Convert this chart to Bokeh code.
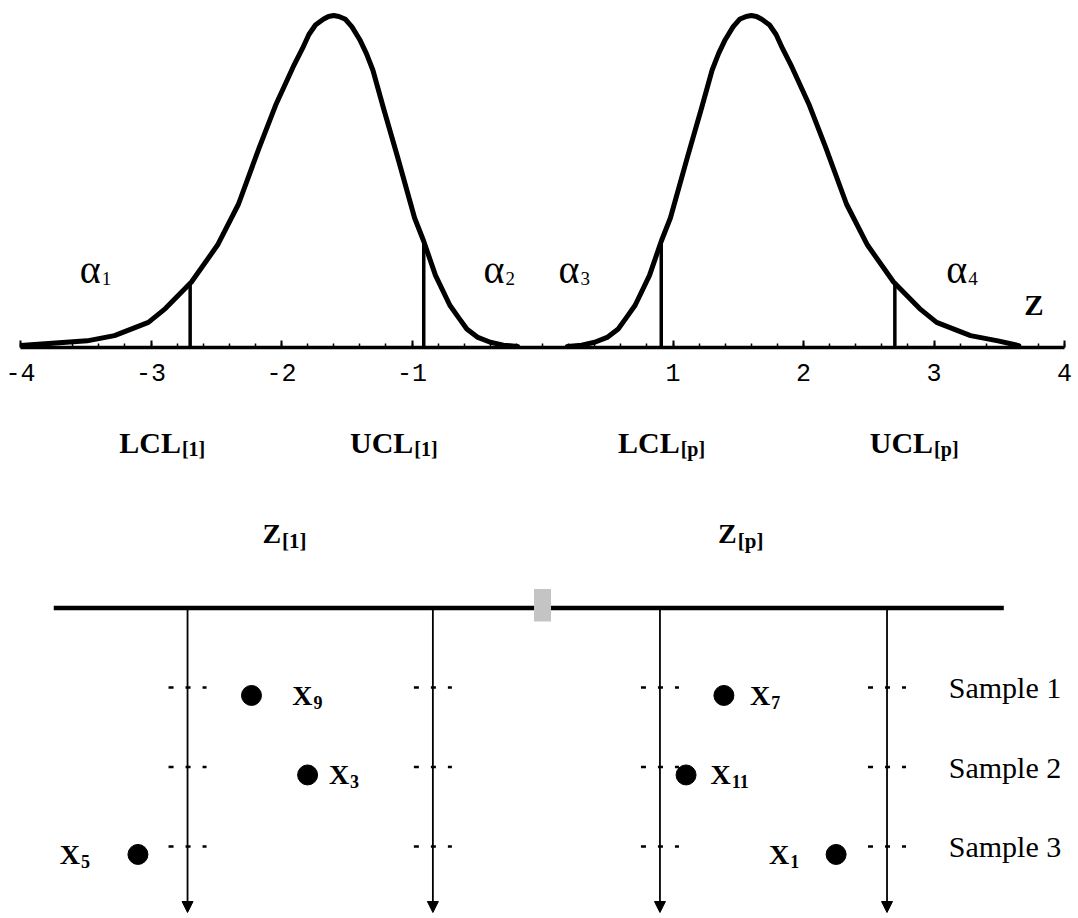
import numpy as np
from bokeh.plotting import figure
from bokeh.layouts import column
from bokeh.models import Range1d, FixedTicker, ColumnDataSource, Arrow, NormalHead
from bokeh.core.properties import value
from bokeh.embed import file_html
from bokeh.resources import INLINE

# ------------------------------------------------------------------ data
z_tick_values = [-4, -3, -2, -1, 1, 2, 3, 4]
z_tick_labels = ["-4", "-3", "-2", "-1", "1", "2", "3", "4"]

# density of the smallest standardized statistic Z[1]
min_curve_z = [-4.0, -3.49, -3.28, -3.02, -2.89, -2.69, -2.49, -2.33, -2.17, -2.04,
               -1.91, -1.84, -1.79, -1.74, -1.68, -1.64, -1.60, -1.56, -1.51, -1.46,
               -1.40, -1.35, -1.30, -1.22, -1.11, -0.98, -0.91, -0.82, -0.71, -0.64,
               -0.58, -0.50, -0.40, -0.30, -0.19]
min_curve_density = [0.004, 0.014, 0.025, 0.053, 0.082, 0.138, 0.216, 0.302, 0.422, 0.514,
                     0.592, 0.630, 0.660, 0.680, 0.692, 0.698, 0.700, 0.698, 0.692, 0.676,
                     0.649, 0.620, 0.585, 0.506, 0.401, 0.273, 0.224, 0.152, 0.089, 0.062,
                     0.039, 0.022, 0.011, 0.005, 0.002]

# density of the largest standardized statistic Z[p]
max_curve_z = [0.19, 0.30, 0.40, 0.50, 0.58, 0.64, 0.71, 0.82, 0.91, 0.98,
               1.11, 1.22, 1.30, 1.35, 1.40, 1.46, 1.51, 1.56, 1.60, 1.64,
               1.68, 1.74, 1.79, 1.84, 1.91, 2.04, 2.17, 2.33, 2.49, 2.69,
               2.89, 3.02, 3.28, 3.49, 3.65]
max_curve_density = [0.002, 0.005, 0.011, 0.022, 0.039, 0.062, 0.089, 0.152, 0.224, 0.273,
                     0.401, 0.506, 0.585, 0.620, 0.649, 0.676, 0.692, 0.698, 0.700, 0.698,
                     0.692, 0.680, 0.660, 0.630, 0.592, 0.514, 0.422, 0.302, 0.216, 0.138,
                     0.082, 0.053, 0.025, 0.014, 0.004]

limit_names = ["LCL", "UCL", "LCL", "UCL"]
limit_subs = ["[1]", "[1]", "[p]", "[p]"]
limit_z = [-2.70, -0.91, 0.91, 2.70]
limit_density = [0.138, 0.224, 0.224, 0.138]

alpha_subs = ["1", "2", "3", "4"]
stat_subs = ["[1]", "[p]"]

arrow_z = [-2.72, -0.84, 0.90, 2.64]
sample_names = ["Sample 1", "Sample 2", "Sample 3"]
sample_rows = [1, 2, 3]

obs_subs = ["9", "3", "5", "7", "11", "1"]
obs_z = [-2.23, -1.80, -3.10, 1.39, 1.10, 2.25]
obs_sample = [1, 2, 3, 1, 2, 3]

# ------------------------------------------------------------------ layout / style constants
W = 1078
LEFT, RIGHT = 20, 14
FRAME_W = W - LEFT - RIGHT
PX_PER_Z = FRAME_W / 8.0
TOP_H = 400
TOP_FRAME_H = 347
PX_PER_DENS = 474.3
BOT_H = 918 - TOP_H
ROW_PX = 79.5
ROW0_PX = 607.5 - TOP_H

SERIF = value("Liberation Serif")

x_range = Range1d(-4, 4)


def sub_text(fig, xs, ys, bases, subs, base_size, sub_size, bold, sub_dy,
             sub_bold=None):
    src = ColumnDataSource(dict(x=xs, y=ys, base=bases, sub=subs))
    style = "bold" if bold else "normal"
    sstyle = style if sub_bold is None else ("bold" if sub_bold else "normal")
    fig.text("x", "y", text="base", source=src, text_align="right",
             text_baseline="middle", text_font=SERIF,
             text_font_size=f"{base_size}px", text_font_style=style,
             text_color="black")
    fig.text("x", "y", text="sub", source=src, text_align="left",
             text_baseline="middle", text_font=SERIF, x_offset=1,
             y_offset=sub_dy, text_font_size=f"{sub_size}px",
             text_font_style=sstyle, text_color="black")


# ------------------------------------------------------------------ top figure
p1 = figure(width=W, height=TOP_H, x_range=x_range,
            y_range=Range1d(0, TOP_FRAME_H / PX_PER_DENS),
            output_backend="svg", toolbar_location=None,
            y_axis_location=None, x_axis_location="below",
            min_border_left=LEFT, min_border_right=RIGHT,
            min_border_top=0, min_border_bottom=TOP_H - TOP_FRAME_H)
p1.outline_line_color = None
p1.xgrid.visible = False
p1.ygrid.visible = False
p1.background_fill_color = "white"
p1.border_fill_color = "white"

minor = [round(v, 2) for v in np.arange(-4, 4.001, 0.2)]
ax = p1.xaxis[0]
ax.ticker = FixedTicker(ticks=z_tick_values, minor_ticks=minor)
ax.major_label_overrides = {v: s for v, s in zip(z_tick_values, z_tick_labels)}
ax.axis_line_width = 3.5
ax.axis_line_color = "black"
ax.major_tick_in = 7
ax.major_tick_out = 0
ax.major_tick_line_width = 2
ax.minor_tick_in = 4
ax.minor_tick_out = 0
ax.minor_tick_line_width = 1.5
ax.major_label_text_font = "Liberation Mono"
ax.major_label_text_font_size = "25px"
ax.major_label_text_color = "black"
ax.major_label_standoff = 16

p1.line(min_curve_z, min_curve_density, line_width=5, line_color="black",
        line_join="round", line_cap="round")
p1.line(max_curve_z, max_curve_density, line_width=5, line_color="black",
        line_join="round", line_cap="round")
p1.segment(x0=limit_z, y0=[0] * len(limit_z), x1=limit_z, y1=limit_density,
           line_width=3.5, line_color="black")

alpha_x = [(px - 541) / 130.3 for px in (100, 503, 578, 965)]
alpha_y = (TOP_FRAME_H - 269) / PX_PER_DENS
sub_text(p1, alpha_x, [alpha_y] * 4, ["α"] * 4, alpha_subs, 40, 19, False, 9)

p1.text(x=[(1022 - 541) / 130.3], y=[(TOP_FRAME_H - 304) / PX_PER_DENS], text=["Z"],
        text_align="left", text_baseline="middle", text_font=SERIF,
        text_font_size="29px", text_font_style="bold", text_color="black")

# ------------------------------------------------------------------ bottom figure
y_top = -ROW0_PX / ROW_PX
y_bot = (BOT_H - ROW0_PX) / ROW_PX
p2 = figure(width=W, height=BOT_H, x_range=x_range,
            y_range=Range1d(y_bot, y_top),
            output_backend="svg", toolbar_location=None,
            x_axis_location=None, y_axis_location=None,
            min_border_left=LEFT, min_border_right=RIGHT,
            min_border_top=0, min_border_bottom=0)
p2.outline_line_color = None
p2.xgrid.visible = False
p2.ygrid.visible = False
p2.background_fill_color = "white"
p2.border_fill_color = "white"

def py(pix):  # page pixel -> bottom-figure row units
    return (pix - 607.5) / ROW_PX

def pz(pix):  # page pixel -> z units
    return (pix - 541) / 130.3

# control-limit labels and statistic labels
sub_text(p2, [pz(v) for v in (180, 412, 678, 931)], [py(442)] * 4,
         limit_names, limit_subs, 30, 20, True, 6)
sub_text(p2, [pz(v) for v in (280, 735)], [py(533)] * 2,
         ["Z", "Z"], stat_subs, 28, 21, True, 7)

# horizontal base line with the centre marker
p2.segment(x0=[pz(53)], y0=[0], x1=[pz(1001.6)], y1=[0], line_width=4.5,
           line_color="black")
p2.quad(left=[-0.065], right=[0.065], top=[py(588.5)], bottom=[py(621)],
        fill_color="#c4c4c4", line_color=None)

# vertical arrows
arr_src = ColumnDataSource(dict(x=arrow_z, y0=[0] * 4, y1=[py(912)] * 4))
p2.add_layout(Arrow(end=NormalHead(size=11, fill_color="black",
                                   line_color="black", line_width=1),
                    x_start="x", y_start="y0", x_end="x", y_end="y1",
                    source=arr_src, line_width=1.8, line_color="black"))

# dashed sample ticks
half = 19 / PX_PER_Z
dx0, dx1, dy = [], [], []
for r in sample_rows:
    for a in arrow_z:
        dx0.append(a - half)
        dx1.append(a + half)
        dy.append(r)
p2.segment(x0=dx0, y0=dy, x1=dx1, y1=dy, line_width=2.4, line_color="black",
           line_dash="5 12")

# observations
dot_y = [s + 0.1 for s in obs_sample]
p2.scatter(obs_z, dot_y, size=20, color="black")
label_off_px = [61, 41.5, -58, 46.4, 44.7, -47]
lab_x = [z + o / PX_PER_Z for z, o in zip(obs_z, label_off_px)]
sub_text(p2, lab_x, dot_y, ["X"] * len(obs_subs), obs_subs, 28, 18, True, 7)

# sample names
p2.text(x=[pz(946.6)] * 3, y=sample_rows, text=sample_names, text_align="left",
        text_baseline="alphabetic", text_font=SERIF, text_font_size="30px",
        text_color="black")

layout = column(p1, p2, spacing=0)
open("out.html", "w").write(file_html(layout, INLINE))
